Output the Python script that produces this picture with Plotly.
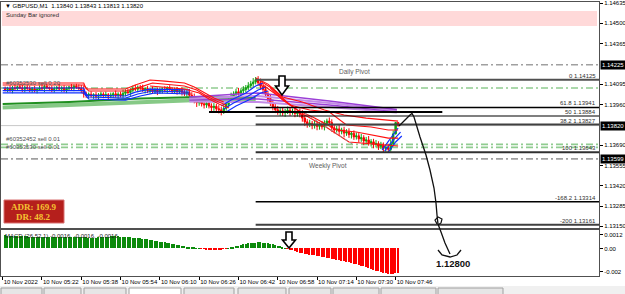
import plotly.graph_objects as go

W, H = 625, 294
ML, MR, MT, MB = 1, 26, 2, 18
FONT = "Liberation Sans"

# ---------------- data ----------------
bar_minute = list(range(1, 162))          # minutes after 05:06
close_px = [
    1.14060, 1.14068, 1.14055, 1.14072, 1.14066, 1.14078, 1.14070, 1.14062, 1.14075, 1.14068,
    1.14058, 1.14064, 1.14052, 1.14060, 1.14071, 1.14065, 1.14080, 1.14073, 1.14067, 1.14059,
    1.14066, 1.14074, 1.14063, 1.14070, 1.14058, 1.14065, 1.14077, 1.14069, 1.14082, 1.14074,
    1.14066, 1.14055, 1.14030, 1.14022, 1.14028, 1.14018, 1.14025, 1.14015, 1.14022, 1.14030,
    1.14020, 1.14026, 1.14016, 1.14024, 1.14031, 1.14022, 1.14028, 1.14019, 1.14035, 1.14045,
    1.14040, 1.14055, 1.14068, 1.14062, 1.14075, 1.14070, 1.14058, 1.14066, 1.14052, 1.14060,
    1.14048, 1.14056, 1.14045, 1.14053, 1.14064, 1.14057, 1.14068, 1.14060, 1.14050, 1.14058,
    1.14046, 1.14054, 1.14042, 1.14035, 1.14040, 1.14022, 1.14005, 1.13990, 1.13972, 1.13980,
    1.13965, 1.13958, 1.13968, 1.13950, 1.13940, 1.13948, 1.13932, 1.13925, 1.13918, 1.13935,
    1.13960, 1.13990, 1.14015, 1.14030, 1.14045, 1.14035, 1.14052, 1.14060, 1.14072, 1.14085,
    1.14098, 1.14110, 1.14125, 1.14105, 1.14082, 1.14060, 1.14030, 1.14000, 1.13970, 1.13945,
    1.13925, 1.13910, 1.13918, 1.13905, 1.13915, 1.13922, 1.13908, 1.13915, 1.13900, 1.13910,
    1.13895, 1.13870, 1.13845, 1.13828, 1.13835, 1.13820, 1.13830, 1.13815, 1.13825, 1.13812,
    1.13835, 1.13850, 1.13840, 1.13805, 1.13790, 1.13798, 1.13782, 1.13790, 1.13770, 1.13778,
    1.13760, 1.13768, 1.13745, 1.13752, 1.13732, 1.13740, 1.13718, 1.13725, 1.13705, 1.13712,
    1.13695, 1.13700, 1.13682, 1.13690, 1.13668, 1.13675, 1.13662, 1.13700, 1.13765, 1.13840,
    1.13820,
]
upper_wick = [
    0.00015, 0.00010, 0.00020, 0.00012, 0.00018, 0.00008, 0.00016, 0.00022, 0.00010, 0.00014,
    0.00018, 0.00012, 0.00020, 0.00010, 0.00016, 0.00024, 0.00012, 0.00018, 0.00008, 0.00020,
    0.00014, 0.00010, 0.00022, 0.00012, 0.00018, 0.00016, 0.00008, 0.00020, 0.00012, 0.00016,
    0.00020, 0.00024, 0.00030, 0.00016, 0.00012, 0.00020, 0.00010, 0.00018, 0.00014, 0.00016,
    0.00012, 0.00020, 0.00010, 0.00016, 0.00012, 0.00022, 0.00014, 0.00018, 0.00024, 0.00016,
    0.00020, 0.00014, 0.00018, 0.00024, 0.00012, 0.00016, 0.00022, 0.00010, 0.00018, 0.00014,
    0.00020, 0.00012, 0.00016, 0.00022, 0.00010, 0.00018, 0.00014, 0.00020, 0.00012, 0.00016,
    0.00018, 0.00010, 0.00020, 0.00014, 0.00016, 0.00024, 0.00020, 0.00028, 0.00022, 0.00018,
    0.00024, 0.00016, 0.00020, 0.00026, 0.00018, 0.00022, 0.00016, 0.00024, 0.00020, 0.00018,
    0.00022, 0.00016, 0.00024, 0.00018, 0.00020, 0.00026, 0.00016, 0.00022, 0.00018, 0.00024,
    0.00020, 0.00026, 0.00018, 0.00024, 0.00028, 0.00020, 0.00026, 0.00022, 0.00030, 0.00024,
    0.00020, 0.00026, 0.00018, 0.00022, 0.00016, 0.00024, 0.00020, 0.00018, 0.00022, 0.00016,
    0.00024, 0.00028, 0.00020, 0.00018, 0.00024, 0.00016, 0.00022, 0.00020, 0.00018, 0.00026,
    0.00020, 0.00016, 0.00024, 0.00022, 0.00018, 0.00020, 0.00026, 0.00016, 0.00022, 0.00018,
    0.00024, 0.00016, 0.00020, 0.00022, 0.00018, 0.00024, 0.00016, 0.00020, 0.00026, 0.00018,
    0.00020, 0.00024, 0.00016, 0.00022, 0.00018, 0.00020, 0.00024, 0.00028, 0.00022, 0.00003,
    0.00000,
]
lower_wick = [
    0.00012, 0.00018, 0.00010, 0.00020, 0.00014, 0.00016, 0.00008, 0.00018, 0.00022, 0.00012,
    0.00016, 0.00020, 0.00012, 0.00018, 0.00010, 0.00014, 0.00022, 0.00012, 0.00018, 0.00016,
    0.00020, 0.00014, 0.00010, 0.00018, 0.00016, 0.00022, 0.00012, 0.00014, 0.00020, 0.00010,
    0.00016, 0.00020, 0.00024, 0.00018, 0.00022, 0.00012, 0.00020, 0.00016, 0.00024, 0.00014,
    0.00018, 0.00012, 0.00022, 0.00014, 0.00020, 0.00016, 0.00024, 0.00012, 0.00018, 0.00020,
    0.00014, 0.00022, 0.00016, 0.00012, 0.00020, 0.00018, 0.00014, 0.00024, 0.00016, 0.00020,
    0.00012, 0.00018, 0.00022, 0.00014, 0.00020, 0.00016, 0.00024, 0.00012, 0.00018, 0.00014,
    0.00020, 0.00016, 0.00022, 0.00018, 0.00024, 0.00020, 0.00026, 0.00022, 0.00028, 0.00020,
    0.00018, 0.00024, 0.00020, 0.00016, 0.00026, 0.00022, 0.00018, 0.00024, 0.00030, 0.00020,
    0.00016, 0.00022, 0.00018, 0.00024, 0.00020, 0.00016, 0.00022, 0.00018, 0.00020, 0.00016,
    0.00018, 0.00022, 0.00016, 0.00020, 0.00024, 0.00028, 0.00022, 0.00026, 0.00020, 0.00024,
    0.00022, 0.00018, 0.00024, 0.00020, 0.00026, 0.00018, 0.00022, 0.00016, 0.00024, 0.00020,
    0.00020, 0.00024, 0.00028, 0.00022, 0.00018, 0.00024, 0.00020, 0.00026, 0.00022, 0.00018,
    0.00024, 0.00020, 0.00018, 0.00026, 0.00022, 0.00016, 0.00024, 0.00020, 0.00028, 0.00018,
    0.00022, 0.00026, 0.00020, 0.00018, 0.00024, 0.00020, 0.00028, 0.00022, 0.00018, 0.00024,
    0.00026, 0.00020, 0.00024, 0.00018, 0.00028, 0.00022, 0.00020, 0.00016, 0.00018, 0.00004,
    0.00000,
]
first_open = 1.14065
last_high = 1.13843
last_low = 1.13813

macd_hist = [
    0.00112, 0.00111, 0.00110, 0.00109, 0.00108, 0.00107, 0.00106, 0.00105, 0.00104, 0.00104,
    0.00103, 0.00102, 0.00102, 0.00101, 0.00100, 0.00100, 0.00099, 0.00099, 0.00099, 0.00098,
    0.00098, 0.00098, 0.00099, 0.00099, 0.00100, 0.00100, 0.00101, 0.00101, 0.00102, 0.00102,
    0.00102, 0.00101, 0.00099, 0.00096, 0.00094, 0.00093, 0.00093, 0.00094, 0.00095, 0.00097,
    0.00099, 0.00101, 0.00103, 0.00104, 0.00105, 0.00105, 0.00104, 0.00103, 0.00102, 0.00100,
    0.00098, 0.00096, 0.00094, 0.00092, 0.00090, 0.00087, 0.00084, 0.00081, 0.00078, 0.00075,
    0.00072, 0.00068, 0.00064, 0.00060, 0.00056, 0.00052, 0.00048, 0.00044, 0.00040, 0.00036,
    0.00032, 0.00028, 0.00024, 0.00020, 0.00016, 0.00012, 0.00009, 0.00006, 0.00003, 0.00001,
    -0.00001, -0.00003, -0.00005, -0.00007, -0.00008, -0.00009, -0.00009, -0.00008, -0.00006, -0.00004,
    -0.00002, 0.00002, 0.00007, 0.00013, 0.00019, 0.00025, 0.00031, 0.00036, 0.00041, 0.00045,
    0.00048, 0.00050, 0.00051, 0.00052, 0.00052, 0.00051, 0.00049, 0.00046, 0.00042, 0.00037,
    0.00031, 0.00025, 0.00018, 0.00011, 0.00004, -0.00003, -0.00010, -0.00017, -0.00024, -0.00030,
    -0.00035, -0.00040, -0.00044, -0.00048, -0.00052, -0.00056, -0.00060, -0.00064, -0.00068, -0.00072,
    -0.00076, -0.00080, -0.00084, -0.00088, -0.00092, -0.00096, -0.00100, -0.00105, -0.00110, -0.00115,
    -0.00120, -0.00125, -0.00131, -0.00137, -0.00143, -0.00149, -0.00155, -0.00162, -0.00169, -0.00176,
    -0.00183, -0.00190, -0.00197, -0.00204, -0.00210, -0.00215, -0.00219, -0.00220, -0.00219, -0.00214,
    -0.00207,
]

price_ticks = [1.14635, 1.14500, 1.14365, 1.14095, 1.13960,
               1.13690, 1.13555, 1.13420, 1.13285, 1.13150]
macd_ticks = [0.0012, 0.0, -0.002]
macd_tick_text = ["0.0012", "0.00", "-0.002"]
time_tick_min = [0, 16, 32, 48, 64, 80, 96, 112, 128, 144, 160]
time_tick_lbl = ["10 Nov 2022", "10 Nov 05:22", "10 Nov 05:38", "10 Nov 05:54",
                 "10 Nov 06:10", "10 Nov 06:26", "10 Nov 06:42", "10 Nov 06:58",
                 "10 Nov 07:14", "10 Nov 07:30", "10 Nov 07:46"]

daily_pivot = 1.14225
weekly_pivot = 1.13599
order_levels = [1.14070, 1.13695, 1.13675]
order_labels = ["#60352530 sell 0.20", "#60352452 sell 0.01", "#60353530 sell 0.01"]
bid_price = 1.13820
marked_prices = [1.14225, 1.13820, 1.13599]
fib_names = ["0", "61.8", "50", "38.2", "100", "-168.2", "-200"]
fib_prices = [1.14125, 1.13941, 1.13884, 1.13827, 1.13643, 1.13314, 1.13161]
fib_start_min = 103
trend_min = [84, 179]
trend_price = [1.13910, 1.13910]
dotted_min = [123, 143]
dotted_price = [1.13904, 1.13691]

# indicator ribbons (minute, price)
rl1_m = [0, 33, 34, 50, 54, 60, 66, 74, 78, 82, 86, 90]
rl1_p = [1.14103, 1.14103, 1.14063, 1.14063, 1.14090, 1.14123, 1.14116, 1.14103, 1.14076, 1.14037, 1.14003, 1.13977]
rl2_m = [0, 33, 35, 50, 56, 61, 74, 79, 83, 87, 91]
rl2_p = [1.14090, 1.14090, 1.14050, 1.14050, 1.14076, 1.14103, 1.14083, 1.14057, 1.14017, 1.13983, 1.13957]
rl3_m = [60, 74, 80, 84, 88, 92]
rl3_p = [1.14083, 1.14063, 1.14037, 1.13997, 1.13963, 1.13937]
bl1_m = [0, 33, 34, 50, 54, 60, 76]
bl1_p = [1.14070, 1.14070, 1.14023, 1.14017, 1.14043, 1.14063, 1.14057]
bl2_m = [0, 33, 35, 50, 55, 61, 76]
bl2_p = [1.14053, 1.14053, 1.14010, 1.14003, 1.14030, 1.14050, 1.14043]
bl3_m = [0, 33, 35, 50, 56, 62, 76]
bl3_p = [1.14037, 1.14037, 1.13997, 1.13990, 1.14017, 1.14037, 1.14030]
bm1_m = [89, 93, 99, 103, 106]
bm1_p = [1.13950, 1.13990, 1.14037, 1.14083, 1.14103]
bm2_m = [90, 94, 100, 104, 107]
bm2_p = [1.13930, 1.13970, 1.14017, 1.14057, 1.14076]
bm3_m = [91, 95, 101, 105, 108]
bm3_p = [1.13910, 1.13950, 1.13997, 1.14037, 1.14050]
rr1_m = [103, 108, 114, 122, 131, 139, 148, 157, 161]
rr1_p = [1.14136, 1.14096, 1.14010, 1.13977, 1.13924, 1.13890, 1.13870, 1.13857, 1.13850]
rr2_m = [105, 110, 117, 125, 133, 140, 150, 157, 161]
rr2_p = [1.14116, 1.14063, 1.13957, 1.13924, 1.13910, 1.13824, 1.13811, 1.13791, 1.13791]
rr3_m = [106, 111, 120, 127, 136, 144, 152, 157, 161]
rr3_p = [1.14090, 1.14030, 1.13924, 1.13870, 1.13791, 1.13777, 1.13751, 1.13737, 1.13737]
rr4_m = [109, 114, 123, 131, 141, 150, 157, 161]
rr4_p = [1.14070, 1.13990, 1.13890, 1.13817, 1.13711, 1.13697, 1.13691, 1.13684]
br1_m = [154.5, 158, 161]
br1_p = [1.13658, 1.13737, 1.13804]
br2_m = [155.5, 159, 162]
br2_p = [1.13651, 1.13724, 1.13777]
br3_m = [157, 160, 162.5]
br3_p = [1.13644, 1.13711, 1.13751]
g1_m = [0, 27, 56, 80, 103]
g1_p = [1.13963, 1.13977, 1.14000, 1.14010, 1.14003]
g2_m = [0, 27, 56, 80, 103]
g2_p = [1.13940, 1.13957, 1.13980, 1.13990, 1.13987]
pu_m = [76, 104, 133, 160.5]
pu1_p = [1.14010, 1.14037, 1.13983, 1.13927]
pu2_p = [1.14000, 1.14017, 1.13970, 1.13920]
pu3_p = [1.13990, 1.13997, 1.13957, 1.13914]
pu4_p = [1.13980, 1.13977, 1.13944, 1.13907]

target_text = "1.12800"
adr_text = ["ADR: 169.9", "DR: 48.2"]
title_text = "▼ GBPUSD,M1  1.13840 1.13843 1.13813 1.13820"

# ---------------- helpers ----------------
PW, PH = W - ML - MR, H - MT - MB
X_RANGE = [-0.69, 242.8]


def P(x, y):
    return (x - ML) / PW, (H - MB - y) / PH


def path(points, close=False):
    s = ""
    for i, (x, y) in enumerate(points):
        px, py = P(x, y)
        s += ("M" if i == 0 else "L") + f"{px:.5f},{py:.5f} "
    return s + ("Z" if close else "")


open_px = [first_open] + close_px[:-1]
high_px = [max(o, c) + w for o, c, w in zip(open_px, close_px, upper_wick)]
low_px = [min(o, c) - w for o, c, w in zip(open_px, close_px, lower_wick)]
high_px[-1] = last_high
low_px[-1] = last_low

fig = go.Figure()


def line(m, p, color, width=1, dash=None):
    fig.add_trace(go.Scatter(x=m, y=p, mode="lines", hoverinfo="skip",
                             line=dict(color=color, width=width, dash=dash),
                             xaxis="x", yaxis="y"))


# green slow MA band
line(g2_m, g2_p, "#86c986", 4)
line(g1_m, g1_p, "#1f8f1f", 2)
# purple band
line(pu_m, pu4_p, "#c38be6", 2)
line(pu_m, pu3_p, "#9b3fd6", 1.5)
line(pu_m, pu2_p, "#c38be6", 2)
line(pu_m, pu1_p, "#9b3fd6", 1.5)
# blue / red ribbons
for m, p in [(bl1_m, bl1_p), (bl2_m, bl2_p), (bl3_m, bl3_p), (bm1_m, bm1_p),
             (bm2_m, bm2_p), (bm3_m, bm3_p), (br1_m, br1_p), (br2_m, br2_p), (br3_m, br3_p)]:
    line(m, p, "#1030ff", 1.2)
for m, p in [(rl1_m, rl1_p), (rl2_m, rl2_p), (rl3_m, rl3_p), (rr1_m, rr1_p),
             (rr2_m, rr2_p), (rr3_m, rr3_p), (rr4_m, rr4_p)]:
    line(m, p, "#ff1010", 1.1)

# dotted diagonal and trend line
line(dotted_min, dotted_price, "#909090", 1, "dot")
line(trend_min, trend_price, "#000000", 2)

# candles
fig.add_trace(go.Candlestick(
    x=bar_minute, open=open_px, high=high_px, low=low_px, close=close_px,
    increasing=dict(line=dict(color="#13a313", width=1), fillcolor="#13a313"),
    decreasing=dict(line=dict(color="#ff0000", width=1), fillcolor="#ff0000"),
    whiskerwidth=0, hoverinfo="skip", xaxis="x", yaxis="y"))

# MACD histogram
fig.add_trace(go.Bar(
    x=bar_minute, y=macd_hist, width=0.6,
    marker=dict(color=["#0b8a0b" if v >= 0 else "#ff0000" for v in macd_hist], line=dict(width=0)),
    hoverinfo="skip", xaxis="x2", yaxis="y2"))

shapes = []
annotations = []

# pink info band
x0, y0 = P(2, 11)
x1, y1 = P(597, 26)
shapes.append(dict(type="rect", xref="paper", yref="paper", x0=x0, x1=x1, y0=y0, y1=y1,
                   fillcolor="#ffd9d9", line=dict(width=0), layer="below"))

DASHDOT = "7px,3px,2px,3px"
# pivots
for lvl in [daily_pivot, weekly_pivot]:
    shapes.append(dict(type="line", xref="paper", yref="y", x0=0, x1=1, y0=lvl, y1=lvl,
                       line=dict(color="#a0a0a0", width=1.6, dash=DASHDOT), layer="below"))
for lvl in order_levels:
    shapes.append(dict(type="line", xref="paper", yref="y", x0=0, x1=1, y0=lvl, y1=lvl,
                       line=dict(color="#90cc90", width=1.6, dash=DASHDOT), layer="below"))
shapes.append(dict(type="line", xref="paper", yref="y", x0=0, x1=1, y0=bid_price, y1=bid_price,
                   line=dict(color="#c8c8c8", width=1), layer="below"))

# fibonacci levels
fib_style = {"0": ("#505050", 2), "61.8": ("#000000", 1.5), "50": ("#000000", 1.2),
             "38.2": ("#404040", 2), "100": ("#303030", 2), "-168.2": ("#000000", 1.5),
             "-200": ("#404040", 2)}
for name, lvl in zip(fib_names, fib_prices):
    col, wd = fib_style[name]
    shapes.append(dict(type="line", xref="x", yref="y", x0=fib_start_min, x1=X_RANGE[1],
                       y0=lvl, y1=lvl, line=dict(color=col, width=wd)))
    annotations.append(dict(x=1, xref="paper", y=lvl, yref="y", xanchor="right", yanchor="bottom",
                            xshift=-1, yshift=-1, text=f"{name} {lvl:.5f}", showarrow=False,
                            font=dict(family=FONT, size=6, color="#303030")))

# pivot labels
annotations.append(dict(x=P(354, 0)[0], xref="paper", y=daily_pivot, yref="y", yanchor="top",
                        yshift=-1, text="Daily Pivot", showarrow=False,
                        font=dict(family=FONT, size=6.5, color="#606060")))
annotations.append(dict(x=P(328, 0)[0], xref="paper", y=weekly_pivot, yref="y", yanchor="top",
                        yshift=-1, text="Weekly Pivot", showarrow=False,
                        font=dict(family=FONT, size=6.5, color="#606060")))
# order labels
for lbl, lvl, anc in zip(order_labels, order_levels, ["bottom", "bottom", "middle"]):
    annotations.append(dict(x=P(4, 0)[0], xref="paper", y=lvl, yref="y", xanchor="left",
                            yanchor=anc, text=lbl, showarrow=False,
                            font=dict(family=FONT, size=6, color="#505050")))

# highlighted right-axis prices
for lvl in marked_prices:
    annotations.append(dict(x=1, xref="paper", y=lvl, yref="y", xanchor="left", xshift=1,
                            text=f"{lvl:.5f}", showarrow=False, bgcolor="#000000", borderpad=1,
                            font=dict(family=FONT, size=6, color="#ffffff")))

# title texts
tx, ty = P(3, 6)
annotations.append(dict(x=tx, y=ty, xref="paper", yref="paper", xanchor="left", yanchor="middle",
                        text=title_text, showarrow=False, font=dict(family=FONT, size=6, color="#000000")))
tx, ty = P(4, 15.5)
annotations.append(dict(x=tx, y=ty, xref="paper", yref="paper", xanchor="left", yanchor="middle",
                        text="Sunday Bar ignored", showarrow=False,
                        font=dict(family=FONT, size=6, color="#303030")))
tx, ty = P(3, 236)
annotations.append(dict(x=tx, y=ty, xref="paper", yref="paper", xanchor="left", yanchor="middle",
                        text="MACD (26,52,1) -0.0016, -0.0016, -0.0016", showarrow=False,
                        font=dict(family=FONT, size=6, color="#202020")))

# ADR box
x0, y0 = P(4, 200)
x1, y1 = P(64, 223)
shapes.append(dict(type="rect", xref="paper", yref="paper", x0=x0, x1=x1, y0=y0, y1=y1,
                   fillcolor="#b51f1c", line=dict(color="#d87070", width=1)))
for txt, yy in zip(adr_text, [207, 217]):
    tx, ty = P(33, yy)
    annotations.append(dict(x=tx, y=ty, xref="paper", yref="paper", xanchor="center",
                            yanchor="middle", text=f"<b>{txt}</b>", showarrow=False,
                            font=dict(family="Liberation Serif", size=9, color="#f6c232")))

# hand drawn sketch
sketch = [(399, 126), (405, 120), (410, 115), (412, 113.5), (414, 117), (420, 137), (426, 155),
          (430, 170), (434, 188), (436, 203), (437, 215), (438, 224), (441, 232), (445, 243),
          (450, 254)]
shapes.append(dict(type="path", xref="paper", yref="paper", path=path(sketch),
                   line=dict(color="#101010", width=1.3)))
loop = [(437, 224), (435, 220), (438, 217), (442, 219), (441, 223), (438, 225)]
shapes.append(dict(type="path", xref="paper", yref="paper", path=path(loop),
                   line=dict(color="#101010", width=1.2)))
smile = [(438, 250), (442, 255), (450, 257), (457, 255), (461, 250)]
shapes.append(dict(type="path", xref="paper", yref="paper", path=path(smile),
                   line=dict(color="#101010", width=1.3)))
tx, ty = P(453, 263)
annotations.append(dict(x=tx, y=ty, xref="paper", yref="paper", xanchor="center", yanchor="middle",
                        text=f"<b>{target_text}</b>", showarrow=False,
                        font=dict(family=FONT, size=9.5, color="#101010")))


def down_arrow(cx, top, shaft_bot, tip):
    pts = [(cx - 3, top), (cx + 3, top), (cx + 3, shaft_bot), (cx + 6.5, shaft_bot), (cx, tip),
           (cx - 6.5, shaft_bot), (cx - 3, shaft_bot)]
    return dict(type="path", xref="paper", yref="paper", path=path(pts, True),
                fillcolor="#ffffff", line=dict(color="#000000", width=1.6))


shapes.append(down_arrow(282, 76, 86, 95))
shapes.append(down_arrow(289, 232, 240, 248))

# bottom tab strip
x0, y0 = P(0, 286)
x1, y1 = P(625, 294)
shapes.append(dict(type="rect", xref="paper", yref="paper", x0=x0, x1=x1, y0=y0, y1=y1,
                   fillcolor="#f0f0f0", line=dict(width=0)))
tabs = [(0, 43), (43, 82), (83, 127), (128, 182), (183, 235), (237, 287), (288, 332),
        (332, 380), (380, 437), (437, 504)]
for i, (a, b) in enumerate(tabs):
    x0, y0 = P(a + 1, 288)
    x1, y1 = P(b - 1, 295)
    shapes.append(dict(type="rect", xref="paper", yref="paper", x0=x0, x1=x1, y0=y0, y1=y1,
                       fillcolor="#ffffff" if i == 3 else "#e6e6e6",
                       line=dict(color="#a0a0a0", width=1)))

axis_common = dict(showgrid=False, zeroline=False, showline=True, mirror=True,
                   linecolor="#505050", linewidth=1, automargin=False)
main_bottom = (H - MB - 228) / PH
macd_top = (H - MB - 230) / PH

fig.update_layout(
    width=W, height=H, margin=dict(l=ML, r=MR, t=MT, b=MB, autoexpand=False),
    paper_bgcolor="#ffffff", plot_bgcolor="#ffffff", showlegend=False,
    font=dict(family=FONT, size=6, color="#000000"),
    boxgap=0.15,
    xaxis=dict(domain=[0, 1], anchor="y", range=X_RANGE, showticklabels=False, ticks="",
               rangeslider=dict(visible=False), **axis_common),
    yaxis=dict(domain=[main_bottom, 1], anchor="x", range=[1.13139, 1.14642], side="right",
               tickvals=price_ticks, ticktext=[f"{v:.5f}" for v in price_ticks],
               ticks="outside", ticklen=3, tickcolor="#000000",
               tickfont=dict(family=FONT, size=6, color="#000000"), **axis_common),
    xaxis2=dict(domain=[0, 1], anchor="y2", range=X_RANGE, matches="x", tickangle=0,
                tickvals=time_tick_min, ticktext=time_tick_lbl, ticklabelposition="outside right",
                ticks="outside", ticklen=3, tickcolor="#000000",
                tickfont=dict(family=FONT, size=6, color="#000000"), **axis_common),
    yaxis2=dict(domain=[0, macd_top], anchor="x2", range=[-0.00237, 0.00159], side="right",
                tickvals=macd_ticks, ticktext=macd_tick_text, ticks="outside", ticklen=3,
                tickcolor="#000000", tickfont=dict(family=FONT, size=6, color="#000000"),
                **axis_common),
    shapes=shapes, annotations=annotations, bargap=0,
)

fig.write_html("out.html")
